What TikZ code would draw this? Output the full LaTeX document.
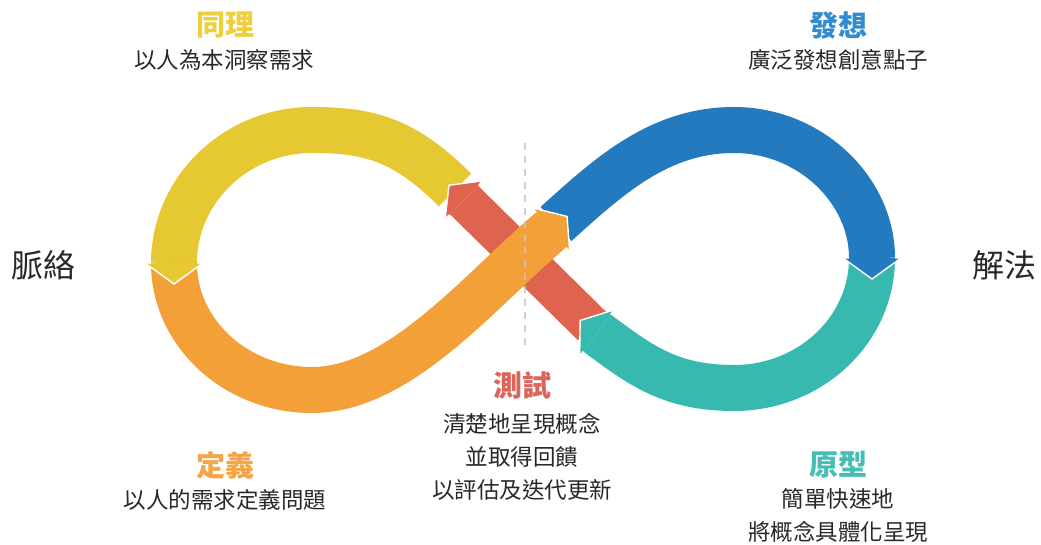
\documentclass[tikz,border=0pt]{standalone}
\usepackage{fontspec}
\setmainfont{Noto Sans CJK TC}
\definecolor{cYel}{RGB}{230,200,50}
\definecolor{cOra}{RGB}{242,160,55}
\definecolor{cRed}{RGB}{222,100,80}
\definecolor{cBlu}{RGB}{35,122,190}
\definecolor{cTea}{RGB}{55,185,175}
\definecolor{tYel}{RGB}{238,208,60}
\definecolor{tOra}{RGB}{245,165,70}
\definecolor{tRed}{RGB}{220,100,90}
\definecolor{tBlu}{RGB}{50,140,210}
\definecolor{tTea}{RGB}{70,190,180}
\definecolor{txt}{RGB}{40,40,40}
\newcommand\myhead[5]{% x, y, angle, colour, half width
  \begin{scope}[shift={(#1,#2)},rotate=#3]
    \fill[#4] (0,-#5) -- (21,0) -- (0,#5) -- cycle;
    \draw[white,line width=1.4pt,line join=miter] (0,-#5+6) -- (0,-#5) -- (21,0) -- (0,#5) -- (0,#5-6);
  \end{scope}}
\tikzset{
  band/.style={line width=46pt,line cap=butt},
  ttl/.style={font=\fontsize{29}{33}\selectfont\bfseries,inner sep=0pt},
  body/.style={font=\fontsize{22.5}{33}\selectfont,text=txt,inner sep=0pt,align=center},
  side/.style={font=\fontsize{32}{36}\selectfont,text=txt,inner sep=0pt},
}
\begin{document}
\begin{tikzpicture}[x=1pt,y=-1pt]
\useasboundingbox (0,0) rectangle (1041,545);
% teal band
\draw[band,cTea] (872,258) .. controls (872,330) and (810,388) .. (734,388) .. controls (670,388) and (640,365) .. (597,333);
% blue band
\draw[band,cBlu] (556,224) .. controls (610,175) and (660,130) .. (734,130) .. controls (810,130) and (872,190) .. (872,258);
\myhead{872}{258}{-90}{cBlu}{29}
% yellow band
\draw[band,cYel] (455,190) .. controls (405,140) and (370,130) .. (312,130) .. controls (236,130) and (174,190) .. (174,263);
% red band
\draw[line width=40pt,line cap=butt,cRed] (592,326) -- (464,200);
\myhead{464}{200}{135.4}{cRed}{27}
\myhead{597}{333}{143.3}{cTea}{29}
% orange band
\draw[band,cOra] (174,263) .. controls (174,333) and (236,390) .. (312,390) .. controls (400,390) and (480,290) .. (551,230);
\myhead{174}{263}{-90}{cYel}{29}
\myhead{551}{230}{40.2}{cOra}{29}
% dashed divider
\coordinate (dt) at (525,143);
\coordinate (db) at (525,347);
\draw[gray!45,line width=1.5pt,dash pattern=on 7pt off 6pt,opacity=0.8] (dt) -- (db);
% texts
\node[ttl,text=tYel] (t1) at (225,25) {同理};
\node[body] (b1) at (224,60) {以人為本洞察需求};
\node[ttl,text=tBlu] (t2) at (838,25) {發想};
\node[body] (b2) at (838,60) {廣泛發想創意點子};
\node[side] (s1) at (43,265) {脈絡};
\node[side] (s2) at (1004,265) {解法};
\node[ttl,text=tRed] (t3) at (522,385) {測試};
\node[body,anchor=north] (b3) at (522,413) {清楚地呈現概念\\並取得回饋\\以評估及迭代更新};
\node[ttl,text=tOra] (t4) at (225,465) {定義};
\node[body] (b4) at (225,500) {以人的需求定義問題};
\node[ttl,text=tTea] (t5) at (838,465) {原型};
\node[body,anchor=north] (b5) at (838,488) {簡單快速地\\將概念具體化呈現};
\end{tikzpicture}
\end{document}
